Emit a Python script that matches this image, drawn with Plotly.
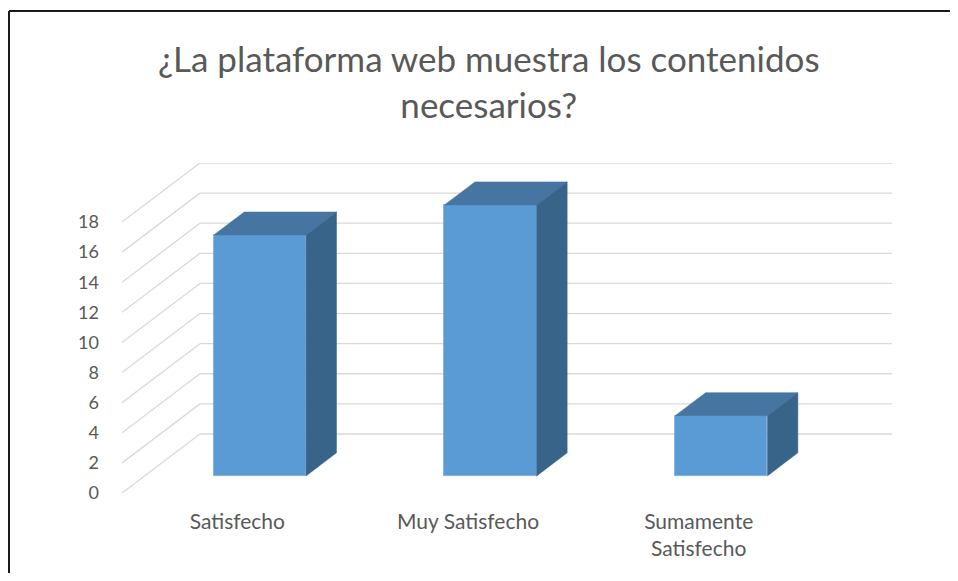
import plotly.graph_objects as go

categories = ["Satisfecho", "Muy Satisfecho", "Sumamente<br>Satisfecho"]
values = [16, 18, 4]
y_ticks = [0, 2, 4, 6, 8, 10, 12, 14, 16, 18]
title_text = "¿La plataforma web muestra los contenidos<br>necesarios?"

# oblique 3D projection parameters (data units)
DX, DY = 0.338, 3.92      # full depth offset
D1, D2 = 0.29, 0.68       # bar front / back depth fraction
HW = 0.2                  # bar half width

FRONT = "#5B9BD5"
TOP = "#4675A1"
SIDE = "#386489"
GRID = "#D9D9D9"
TXT = "#595959"
FONT = "Lato, 'Open Sans', sans-serif"

fig = go.Figure()

xs = list(range(len(values)))

# front faces
fig.add_trace(go.Bar(x=[c + D1 * DX for c in xs], y=values, base=D1 * DY, width=2 * HW,
                     marker=dict(color=FRONT, line=dict(color="#6FA8DC", width=0.8)),
                     showlegend=False, hoverinfo="skip"))

# top and side faces
for c, v in zip(xs, values):
    xl, xr = c - HW, c + HW
    fig.add_trace(go.Scatter(
        x=[xl + D1 * DX, xr + D1 * DX, xr + D2 * DX, xl + D2 * DX, xl + D1 * DX],
        y=[v + D1 * DY, v + D1 * DY, v + D2 * DY, v + D2 * DY, v + D1 * DY],
        fill="toself", fillcolor=TOP, mode="lines", line=dict(color=TOP, width=0.5),
        hoverinfo="skip", showlegend=False))
    fig.add_trace(go.Scatter(
        x=[xr + D1 * DX, xr + D2 * DX, xr + D2 * DX, xr + D1 * DX, xr + D1 * DX],
        y=[D1 * DY, D2 * DY, v + D2 * DY, v + D1 * DY, D1 * DY],
        fill="toself", fillcolor=SIDE, mode="lines", line=dict(color=SIDE, width=0.5),
        hoverinfo="skip", showlegend=False))

# page body has an 8px margin on every side, so the figure is 16px smaller
W, H = 942, 565
ml, mt = 114, 155
pw, ph = 770, 330
mr, mb = W - ml - pw, H - mt - ph

# wall gridlines (below the bars)
shapes = []
for v in y_ticks:
    shapes.append(dict(type="line", xref="x", yref="y", x0=-0.5, y0=v, x1=-0.5 + DX, y1=v + DY,
                       line=dict(color=GRID, width=1.3), layer="below"))
    shapes.append(dict(type="line", xref="x", yref="y", x0=-0.5 + DX, y0=v + DY, x1=2.5 + DX,
                       y1=v + DY, line=dict(color=GRID, width=1.3), layer="below"))
# chart frame (top and left edges only, kept inside the figure)
fx0, fy1 = (1 - ml) / pw, (H - mb - 3) / ph
shapes.append(dict(type="line", xref="paper", yref="paper", x0=fx0, x1=(W - ml) / pw,
                   y0=fy1, y1=fy1, line=dict(color="#1A1A1A", width=2), layer="above"))
shapes.append(dict(type="line", xref="paper", yref="paper", x0=fx0, x1=fx0,
                   y0=-mb / ph, y1=fy1, line=dict(color="#1A1A1A", width=2), layer="above"))

fig.update_layout(
    width=W, height=H,
    margin=dict(l=ml, r=mr, t=mt, b=mb),
    paper_bgcolor="white", plot_bgcolor="white",
    font=dict(family=FONT, color=TXT, size=14),
    xaxis=dict(range=[-0.5, 2.5 + DX], tickvals=xs, ticktext=categories,
               showgrid=False, zeroline=False, showline=False, ticks="",
               ticklabelstandoff=14, tickfont=dict(size=21, color=TXT)),
    yaxis=dict(range=[0, 18 + DY], tickvals=y_ticks, showgrid=False, zeroline=False,
               showline=False, ticks="", ticklabelstandoff=22,
               tickfont=dict(size=18, color=TXT)),
    bargap=0,
    annotations=[dict(text=title_text, xref="paper", yref="paper",
                      x=(481 - ml) / pw, y=(H - mb - 72.5) / ph, xanchor="center", yanchor="middle",
                      showarrow=False, font=dict(size=35, color=TXT, family=FONT))],
    shapes=shapes,
)

fig.write_html("out.html", config={"displayModeBar": False})
